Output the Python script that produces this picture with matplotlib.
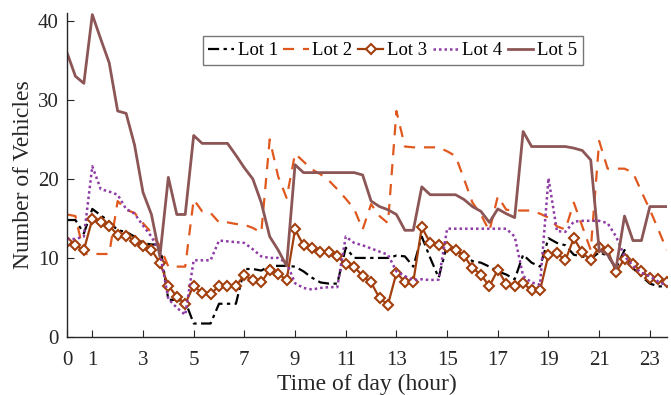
import numpy as np
import matplotlib
matplotlib.use("Agg")
import matplotlib.pyplot as plt

plt.rcParams["font.family"] = ["Liberation Serif", "DejaVu Serif"]

# time axis: one sample every 20 minutes
hours = np.arange(72) / 3.0

lot1 = [14.8, 14.8, 13.1, 16.2, 15.4, 14.6, 13.5, 13.3, 12.7, 11.9, 11.7, 11.7,
        4.7, 4.7, 4.5, 1.7, 1.7, 1.7, 4.2, 4.2, 4.2, 8.6, 8.6, 8.4,
        9.0, 9.0, 9.0, 8.9, 8.3, 7.5, 6.9, 6.75, 6.75, 11.3, 10.0, 10.0,
        10.0, 10.0, 10.0, 10.3, 10.2, 8.9, 12.7, 10.0, 7.5, 11.7, 11.0, 10.3,
        9.6, 9.4, 8.9, 8.3, 7.9, 7.3, 10.4, 9.4, 8.9, 12.5, 11.9, 11.6,
        10.4, 10.2, 9.9, 10.7, 10.3, 8.7, 11.0, 8.7, 7.7, 6.75, 6.4, 6.4]

lot2 = [15.5, 15.3, 10.5, 10.5, 10.5, 10.5, 17.2, 16.1, 15.7, 14.4, 13.2, 11.5,
        8.9, 8.9, 8.9, 17.4, 15.9, 15.7, 14.5, 14.5, 14.3, 14.2, 13.8, 13.2,
        25.0, 20.3, 17.6, 23.2, 22.2, 21.2, 20.6, 19.8, 18.7, 17.5, 16.2, 13.6,
        16.8, 15.3, 14.4, 28.6, 24.1, 24.0, 24.0, 24.0, 24.0, 23.5, 22.9, 20.0,
        17.0, 15.5, 13.4, 17.8, 16.1, 16.0, 16.0, 16.0, 15.6, 15.1, 14.0, 13.6,
        17.0, 14.0, 11.0, 24.8, 21.3, 21.3, 21.3, 20.8, 18.4, 16.1, 13.6, 11.0]

lot3 = [12.0, 11.6, 11.0, 14.9, 14.6, 14.1, 12.9, 12.8, 12.2, 11.5, 11.0, 9.4,
        6.5, 5.1, 4.2, 6.5, 5.5, 5.4, 6.5, 6.5, 6.5, 7.8, 7.2, 6.9,
        8.5, 8.0, 7.2, 13.6, 11.6, 11.3, 10.8, 10.8, 10.2, 9.2, 8.9, 7.7,
        6.9, 4.9, 4.1, 8.1, 7.0, 7.0, 13.9, 11.9, 11.7, 11.4, 11.0, 10.3,
        8.7, 7.9, 6.4, 8.5, 6.7, 6.5, 6.8, 5.9, 5.9, 10.4, 10.6, 9.7,
        12.5, 10.7, 9.7, 11.4, 11.0, 8.2, 9.9, 9.2, 8.3, 7.5, 7.3, 7.0]

lot4 = [12.4, 12.4, 12.7, 21.6, 18.7, 18.4, 18.0, 16.2, 15.6, 14.1, 12.7, 10.7,
        4.8, 3.7, 2.8, 9.7, 9.7, 9.7, 12.2, 12.1, 12.0, 11.9, 11.1, 10.2,
        10.0, 10.0, 9.4, 6.8, 6.2, 6.0, 6.2, 6.3, 6.3, 12.7, 11.9, 11.6,
        11.2, 10.8, 10.4, 8.3, 7.7, 7.2, 7.3, 7.2, 7.25, 13.7, 13.7, 13.7,
        13.7, 13.7, 13.7, 13.7, 13.7, 12.7, 7.7, 6.9, 6.6, 20.1, 13.4, 13.3,
        14.6, 14.7, 14.7, 14.7, 14.4, 12.7, 10.2, 9.0, 8.1, 7.7, 7.0, 6.5]

lot5 = [36.0, 33.0, 32.1, 40.8, 37.7, 34.7, 28.6, 28.3, 24.3, 18.3, 15.5, 10.2,
        20.2, 15.5, 15.5, 25.5, 24.5, 24.5, 24.5, 24.5, 23.0, 21.4, 20.0, 17.0,
        12.7, 11.0, 9.0, 21.8, 20.8, 20.8, 20.8, 20.8, 20.8, 20.8, 20.8, 20.5,
        17.2, 16.5, 16.1, 15.5, 13.5, 13.5, 19.0, 18.0, 18.0, 18.0, 18.0, 17.4,
        16.5, 15.9, 14.5, 16.2, 15.6, 15.1, 26.0, 24.1, 24.1, 24.1, 24.1, 24.1,
        23.9, 23.6, 22.4, 11.0, 10.4, 8.7, 15.3, 12.2, 12.2, 16.5, 16.5, 16.5]

xticks = [0, 1, 3, 5, 7, 9, 11, 13, 15, 17, 19, 21, 23]
yticks = [0, 10, 20, 30, 40]

fig = plt.figure(figsize=(6.71, 3.95), dpi=100)
ax = fig.add_axes([0.0998, 0.147, 0.894, 0.82])

ax.plot(hours, lot1, color="black", linestyle=(0, (5, 2, 1.5, 2)), linewidth=1.6, label="Lot 1")
ax.plot(hours, lot2, color="#E0581E", linestyle=(0, (5, 4)), linewidth=1.6, label="Lot 2")
ax.plot(hours, lot3, color="#A23F0C", linewidth=1.6, marker="D", markersize=5.5,
        markerfacecolor="white", markeredgecolor="#A23F0C", markeredgewidth=1.5, label="Lot 3")
ax.plot(hours, lot4, color="#8E3BA6", linestyle=(0, (1, 1.2)), linewidth=1.8, label="Lot 4")
ax.plot(hours, lot5, color="#8C5656", linewidth=2.0, label="Lot 5")

ax.set_xlim(0, 23.67)
ax.set_ylim(0, 41)
ax.set_xticks(xticks)
ax.set_yticks(yticks)
ax.tick_params(direction="in", length=5, labelsize=15, colors="#262626")
ax.tick_params(axis="x", pad=10)
ax.tick_params(axis="y", pad=6)
for s in ["top", "right"]:
    ax.spines[s].set_visible(False)
for s in ["left", "bottom"]:
    ax.spines[s].set_color("#262626")
    ax.spines[s].set_linewidth(1.0)

ax.set_xlabel("Time of day (hour)", fontsize=17, color="#262626", labelpad=3)
ax.set_ylabel("Number of Vehicles", fontsize=17, color="#262626", labelpad=3)

leg = ax.legend(ncol=5, loc="center", bbox_to_anchor=(0.543, 0.884), fontsize=13.5,
                frameon=True, fancybox=False, handlelength=1.35, handletextpad=0.2,
                columnspacing=0.3, borderpad=0.3, borderaxespad=0)
leg.get_frame().set_edgecolor("#555555")
leg.get_frame().set_linewidth(1.0)

fig.savefig("out.png", dpi=100)
